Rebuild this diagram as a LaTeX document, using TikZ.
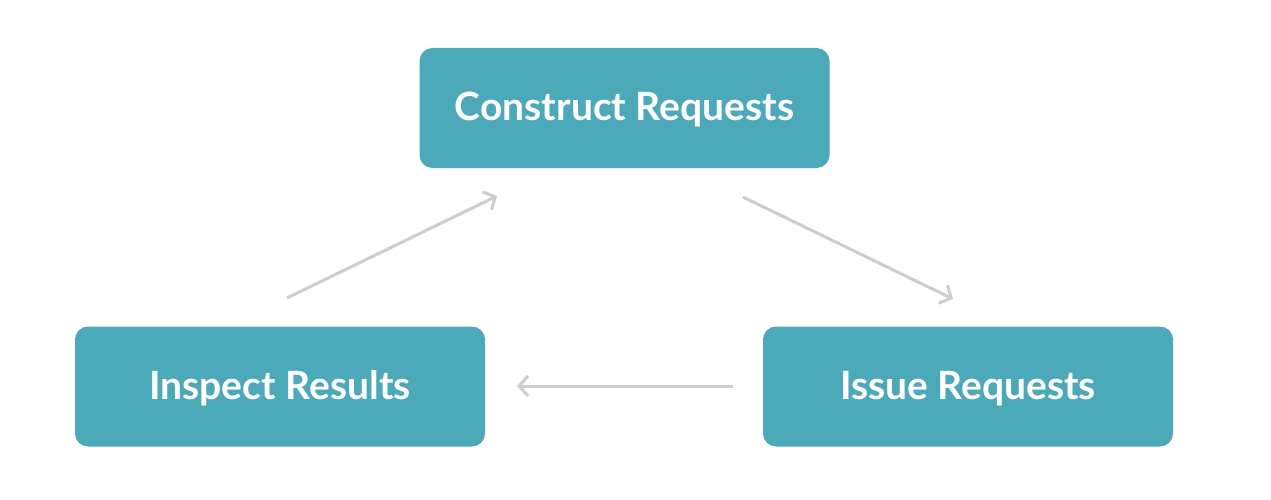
\documentclass[tikz,border=0pt]{standalone}
\usepackage{fontspec}
\setmainfont{Lato}
\usetikzlibrary{arrows.meta}
\definecolor{boxteal}{HTML}{4CA9BA}
\definecolor{arrowgray}{HTML}{CDCDCD}
\newcommand{\boxlabel}[1]{\smash{\raisebox{-12.5pt}{#1}}}
\tikzset{
  stepbox/.style={fill=boxteal, draw=none, rounded corners=13pt, minimum width=410pt, minimum height=120pt, text=white, font=\fontsize{39}{46}\selectfont\bfseries, inner sep=0pt},
  flow/.style={draw=arrowgray, line width=3pt, -{Straight Barb[length=9pt,width=20pt,line width=3pt]}}
}
\begin{document}
\begin{tikzpicture}[x=1pt,y=-1pt]
\useasboundingbox[fill=white] (0,0) rectangle (1271,500);
\node[stepbox] (construct) at (624.5,108) {\boxlabel{Construct Requests}};
\node[stepbox] (inspect) at (280,386.5) {\boxlabel{Inspect Results}};
\node[stepbox] (issue) at (968,386.5) {\boxlabel{Issue Requests}};
\coordinate (a1s) at (287,298);
\coordinate (a1e) at (497,196);
\coordinate (a2s) at (743,197);
\coordinate (a2e) at (953,299);
\coordinate (a3s) at (733,386);
\coordinate (a3e) at (517,386);
\draw[flow] (a1s) -- (a1e);
\draw[flow] (a2s) -- (a2e);
\draw[flow] (a3s) -- (a3e);
\end{tikzpicture}
\end{document}
